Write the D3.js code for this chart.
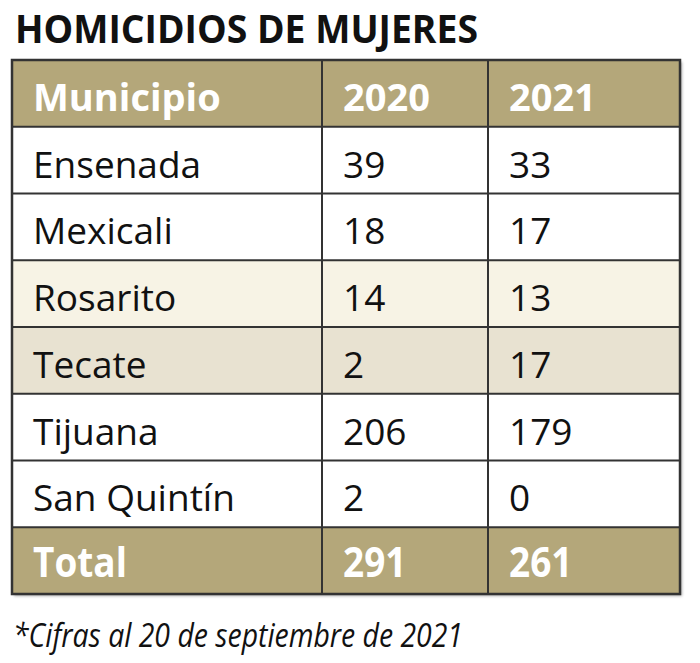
<!DOCTYPE html>
<html>
<head>
<meta charset="utf-8">
<script src="https://cdn.jsdelivr.net/npm/d3@7"></script>
<style>
  body { margin: 0; background: #fff; }
  text { font-family: "Open Sans", "Noto Sans", sans-serif; }
</style>
</head>
<body>
<svg id="chart"></svg>
<script>
const title = 'HOMICIDIOS DE MUJERES';
const columns = ['Municipio', '2020', '2021'];
const municipios = ['Ensenada', 'Mexicali', 'Rosarito', 'Tecate', 'Tijuana', 'San Quintín'];
const values2020 = [39, 18, 14, 2, 206, 2];
const values2021 = [33, 17, 13, 17, 179, 0];
const totalLabel = 'Total';
const totals = [291, 261];
const note = '*Cifras al 20 de septiembre de 2021';

const width = 700, height = 663;
const colEdges = [12, 322, 488, 680];
const table = { top: 60, bottom: 594 };
const pad = 21;

const khaki = '#b4a77a';
const rowFill = { Rosarito: '#f7f3e5', Tecate: '#e8e2d1' };
const lineColor = '#333';

const svg = d3.select('#chart')
  .attr('width', width)
  .attr('height', height);

// title
svg.append('text')
  .attr('x', 15)
  .attr('y', 43)
  .attr('font-size', 39)
  .attr('font-weight', 700)
  .attr('fill', '#111')
  .attr('textLength', 463)
  .attr('lengthAdjust', 'spacingAndGlyphs')
  .text(title);

// rows: header, municipios, total
const rows = [
  { key: 'header', cells: columns, kind: 'head' },
  ...municipios.map((m, i) => ({ key: m, cells: [m, values2020[i], values2021[i]], kind: 'body' })),
  { key: 'total', cells: [totalLabel, ...totals], kind: 'total' }
];

const y = d3.scaleBand()
  .domain(rows.map(d => d.key))
  .range([table.top, table.bottom]);

const x = d3.scaleOrdinal()
  .domain([0, 1, 2])
  .range(colEdges.slice(0, 3));

// soft shadow
const defs = svg.append('defs');
defs.append('filter').attr('id', 'shadow')
  .append('feGaussianBlur').attr('stdDeviation', 1.5);

svg.append('rect')
  .attr('x', colEdges[0] + 2)
  .attr('y', table.top + 2)
  .attr('width', colEdges[3] - colEdges[0])
  .attr('height', table.bottom - table.top)
  .attr('fill', '#aaa')
  .attr('filter', 'url(#shadow)');

const rowG = svg.selectAll('g.row')
  .data(rows)
  .join('g')
  .attr('class', 'row')
  .attr('transform', d => `translate(0,${y(d.key)})`);

rowG.append('rect')
  .attr('x', colEdges[0])
  .attr('width', colEdges[3] - colEdges[0])
  .attr('height', y.bandwidth())
  .attr('fill', d => d.kind === 'body' ? (rowFill[d.key] || '#fff') : khaki);

rowG.selectAll('text')
  .data(d => d.cells.map((c, i) => ({ c, i, kind: d.kind })))
  .join('text')
  .attr('transform', d => {
    const tx = x(d.i) + pad;
    const ty = y.bandwidth() / 2 + (d.kind === 'total' ? 16 : 17.5);
    return d.kind === 'total' ? `translate(${tx},${ty}) scale(0.88,1)` : `translate(${tx},${ty})`;
  })
  .attr('font-size', d => d.kind === 'head' ? 38 : d.kind === 'total' ? 42 : 37)
  .attr('font-weight', d => d.kind === 'body' ? 400 : 700)
  .attr('fill', d => d.kind === 'body' ? '#111' : '#fff')
  .text(d => d.c);

// grid lines
svg.append('g')
  .selectAll('line')
  .data(rows.slice(1).map(d => y(d.key)))
  .join('line')
  .attr('x1', colEdges[0]).attr('x2', colEdges[3])
  .attr('y1', d => d).attr('y2', d => d)
  .attr('stroke', lineColor)
  .attr('stroke-width', 2);

svg.append('g')
  .selectAll('line')
  .data(colEdges.slice(1, 3))
  .join('line')
  .attr('x1', d => d).attr('x2', d => d)
  .attr('y1', table.top).attr('y2', table.bottom)
  .attr('stroke', lineColor)
  .attr('stroke-width', 2);

svg.append('rect')
  .attr('x', colEdges[0])
  .attr('y', table.top)
  .attr('width', colEdges[3] - colEdges[0])
  .attr('height', table.bottom - table.top)
  .attr('fill', 'none')
  .attr('stroke', lineColor)
  .attr('stroke-width', 2.5);

// footnote
svg.append('text')
  .attr('x', 13)
  .attr('y', 647)
  .attr('font-size', 33)
  .attr('font-style', 'italic')
  .attr('fill', '#111')
  .attr('textLength', 450)
  .attr('lengthAdjust', 'spacingAndGlyphs')
  .text(note);
</script>
</body>
</html>
